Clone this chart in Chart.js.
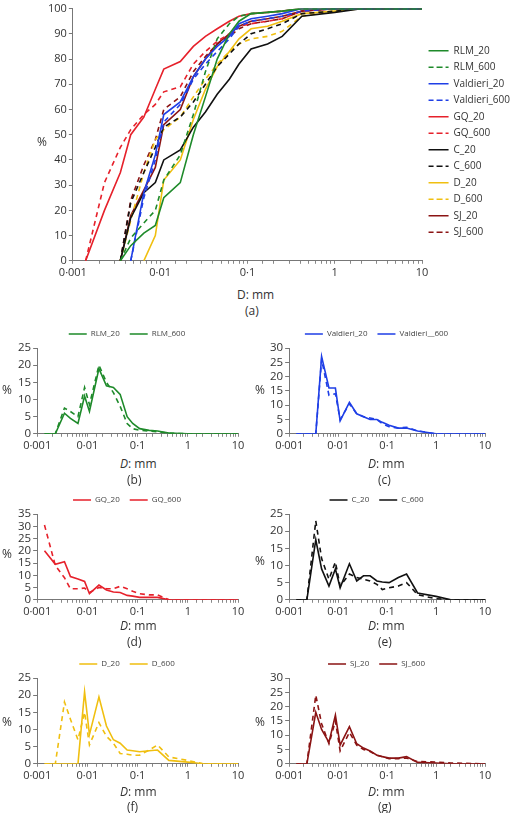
<!DOCTYPE html>
<html><head><meta charset="utf-8">
<script src="https://cdn.jsdelivr.net/npm/chart.js@4.4.0/dist/chart.umd.min.js"></script>
<style>
body{margin:0;background:#fff;font-family:"Open Sans",sans-serif;color:#333}
.c{position:absolute}
.t{position:absolute;font-size:12px;color:#333;white-space:nowrap}
</style></head><body>
<div class="c" style="left:0;top:0;width:520px;height:285px"><canvas id="a"></canvas></div>
<div class="t" style="left:37px;top:133px">%</div>
<div class="t" style="left:237px;top:286px">D: mm</div>
<div class="t" style="left:245px;top:302px">(a)</div>

<div class="c" style="left:0;top:320px;width:250px;height:134px"><canvas id="b"></canvas></div>
<div class="c" style="left:252px;top:320px;width:245px;height:134px"><canvas id="c"></canvas></div>
<div class="c" style="left:0;top:486px;width:250px;height:134px"><canvas id="d"></canvas></div>
<div class="c" style="left:252px;top:486px;width:245px;height:134px"><canvas id="e"></canvas></div>
<div class="c" style="left:0;top:650px;width:250px;height:134px"><canvas id="f"></canvas></div>
<div class="c" style="left:252px;top:650px;width:245px;height:134px"><canvas id="g"></canvas></div>

<div class="t" style="left:2px;top:381px">%</div><div class="t" style="left:255px;top:381px">%</div>
<div class="t" style="left:2px;top:545px">%</div><div class="t" style="left:255px;top:552px">%</div>
<div class="t" style="left:2px;top:713px">%</div><div class="t" style="left:255px;top:713px">%</div>
<div class="t" style="left:120px;top:455px"><i>D</i>: mm</div><div class="t" style="left:368px;top:455px"><i>D</i>: mm</div>
<div class="t" style="left:127px;top:471px">(b)</div><div class="t" style="left:378px;top:471px">(c)</div>
<div class="t" style="left:120px;top:617px"><i>D</i>: mm</div><div class="t" style="left:368px;top:617px"><i>D</i>: mm</div>
<div class="t" style="left:127px;top:633px">(d)</div><div class="t" style="left:378px;top:633px">(e)</div>
<div class="t" style="left:120px;top:783px"><i>D</i>: mm</div><div class="t" style="left:368px;top:783px"><i>D</i>: mm</div>
<div class="t" style="left:127px;top:798px">(f)</div><div class="t" style="left:378px;top:798px">(g)</div>
<script>
const sizes = [0.0014,0.0023,0.0035,0.0046,0.0065,0.0088,0.011,0.017,0.024,0.033,0.045,0.062,0.08,0.11,0.17,0.25,0.42,1,2,10];
const xTickLabels = {0.001:'0·001',0.01:'0·01',0.1:'0·1',1:'1',10:'10'};

// cumulative (%)
const cumRLM20  = [null,null,0,6,11,14,25,31,50,65,80,90,95,98,98.5,99,100,100,100,100];
const cumRLM600 = [null,null,0,9,15,20,32,42,58,75,88,94,97,98,98.5,99,100,100,100,100];
const cumVal20  = [null,null,null,0,27,42,58,63,73,80,85,89,94,96,97,98,100,100,100,100];
const cumVal600 = [null,null,null,0,25,40,55,62,72,78,83,88,93,95,96,97,99,100,100,100];
const cumGQ20   = [0,20,35,50,57,68,76,79,85,89,92,95,97,98,98.5,99,100,100,100,100];
const cumGQ600  = [0,31,45,52,58,62,67,69,78,83,87,90,93,94,95,96,99,100,100,100];
const cumC20    = [null,null,0,17,27,31,40,44,53,59,66,72,78,84,86,89,97,98.5,100,100];
const cumC600   = [null,null,0,23,35,45,53,57,63,70,77,82,86,90,92,94,98,99,100,100];
const cumD20    = [null,null,null,null,0,10,32,40,56,68,77,83,88,92,93,95,98,99,100,100];
const cumD600   = [null,null,0,16,35,48,52,57,65,72,78,83,86,88,89,91,97,99,100,100];
const cumSJ20   = [null,null,0,18,28,37,54,60,73,80,86,90,93,95,96,97,99,100,100,100];
const cumSJ600  = [null,null,0,24,38,48,60,65,75,81,86,89,92,94,95,96,99,100,100,100];

// frequency (%)
const frRLM20  = [0,0,6,4.5,3,11,6.5,19,14,13.5,11.5,5,3,1.5,1,0.8,0.2,0,0,0];
const frRLM600 = [0,0,7.5,6.5,5,13.5,8.5,20,15,12,8,3,1.5,1,0.8,0.6,0.2,0,0,0];
const frVal20  = [0,0,0,27,16,16,4.5,11,7,6,5,5,4,3,2,2,1,0,0,0];
const frVal600 = [0,0,0,26,13.5,14,5,10.5,7,6,5.5,5,3.5,2.5,2,2.3,1,0,0,0];
const frGQ20   = [20,14.5,15.5,9.5,8.5,7.5,2.5,6,4,3.2,3,1.8,1.5,1,1,1,0,0,0,0];
const frGQ600  = [30.5,14,9,4.5,4.5,4.8,3,5,4.5,4.5,5.5,4.5,3.5,2.5,2,2,0,0,0,0];
const frC20    = [0,0,17.5,9,4,9,3.5,10.5,5.5,7,7,5.5,5.2,5,6.5,7.5,2,1,0,0];
const frC600   = [0,0,23,12,6,11,4,7.5,6.5,6,5.5,4.5,3,3.5,4,5,1.5,0.3,0,0];
const frD20    = [0,0,0,0,0,21,8.5,19.5,11,7,6,4,3.8,3.5,3.8,4,1,0.5,0,0];
const frD600   = [0,0,18,13,7,15,5.5,12,8,6,3,2.8,2.5,2.5,4,5.5,2,1,0,0];
const frSJ20   = [0,0,18,12,7.5,17,6.5,13,7,5.5,4.5,3,2.5,2,2,2.5,0.5,0.3,0,0];
const frSJ600  = [0,0,24,14,7,15,4.5,11,6.5,5,4.3,3,2.5,1.8,1.8,2,0.8,0.6,0.3,0];

const COL = {RLM:'#1e8a2a',Val:'#1f3fe6',GQ:'#e6212b',C:'#111111',D:'#f0bf10',SJ:'#8b1414'};
const FONT = '"Open Sans", sans-serif';

function pts(v){const o=[];v.forEach((y,i)=>{if(y!==null)o.push({x:sizes[i],y:y});});return o;}
function ds(label,vals,color,dashed){
  return {label,data:pts(vals),borderColor:color,backgroundColor:color,borderWidth:1.6,
    borderDash:dashed?[5,4]:[],pointRadius:0,showLine:true,tension:0};
}
function xAxis(fs){
  return {type:'logarithmic',min:0.001,max:10,
    border:{color:'#777'},
    grid:{drawOnChartArea:false,drawTicks:true,tickLength:3,color:'#888'},
    ticks:{autoSkip:false,maxRotation:0,color:'#333',font:{family:FONT,size:fs},padding:2,
      callback:(v)=>{for(const k in xTickLabels){if(Math.abs(v/parseFloat(k)-1)<1e-6)return xTickLabels[k];}return '';}}};
}
function yAxis(max,step,fs){
  return {min:0,max:max,border:{color:'#777'},
    grid:{drawOnChartArea:false,drawTicks:true,tickLength:4,color:'#777'},
    ticks:{stepSize:step,autoSkip:false,color:'#333',font:{family:FONT,size:fs},padding:2}};
}
Chart.defaults.animation=false;
Chart.defaults.responsive=true;
Chart.defaults.maintainAspectRatio=false;

new Chart(document.getElementById('a'),{type:'scatter',
  data:{datasets:[
    ds('RLM_20',cumRLM20,COL.RLM,false),ds('RLM_600',cumRLM600,COL.RLM,true),
    ds('Valdieri_20',cumVal20,COL.Val,false),ds('Valdieri_600',cumVal600,COL.Val,true),
    ds('GQ_20',cumGQ20,COL.GQ,false),ds('GQ_600',cumGQ600,COL.GQ,true),
    ds('C_20',cumC20,COL.C,false),ds('C_600',cumC600,COL.C,true),
    ds('D_20',cumD20,COL.D,false),ds('D_600',cumD600,COL.D,true),
    ds('SJ_20',cumSJ20,COL.SJ,false),ds('SJ_600',cumSJ600,COL.SJ,true)]},
  options:{layout:{padding:{left:46,top:2,right:0,bottom:4}},
    plugins:{tooltip:{enabled:false},
      legend:{position:'right',align:'center',labels:{boxWidth:20,boxHeight:0,padding:6.5,color:'#333',font:{family:FONT,size:10}}}},
    scales:{x:xAxis(11),y:yAxis(100,10,11)}}});

function small(id,l1,v1,l2,v2,color,ymax,step){
  new Chart(document.getElementById(id),{type:'scatter',
    data:{datasets:[ds(l1,v1,color,false),ds(l2,v2,color,true)]},
    options:{layout:{padding:{left:16,top:0,right:12,bottom:0}},
      plugins:{tooltip:{enabled:false},
        legend:{position:'top',labels:{boxWidth:18,boxHeight:0,padding:10,color:'#444',font:{family:FONT,size:8}}}},
      scales:{x:xAxis(11),y:yAxis(ymax,step,11.5)}}});
}
small('b','RLM_20',frRLM20,'RLM_600',frRLM600,COL.RLM,25,5);
small('c','Valdieri_20',frVal20,'Valdieri__600',frVal600,COL.Val,30,5);
small('d','GQ_20',frGQ20,'GQ_600',frGQ600,COL.GQ,35,5);
small('e','C_20',frC20,'C_600',frC600,COL.C,25,5);
small('f','D_20',frD20,'D_600',frD600,COL.D,25,5);
small('g','SJ_20',frSJ20,'SJ_600',frSJ600,COL.SJ,30,5);
</script></body></html>
